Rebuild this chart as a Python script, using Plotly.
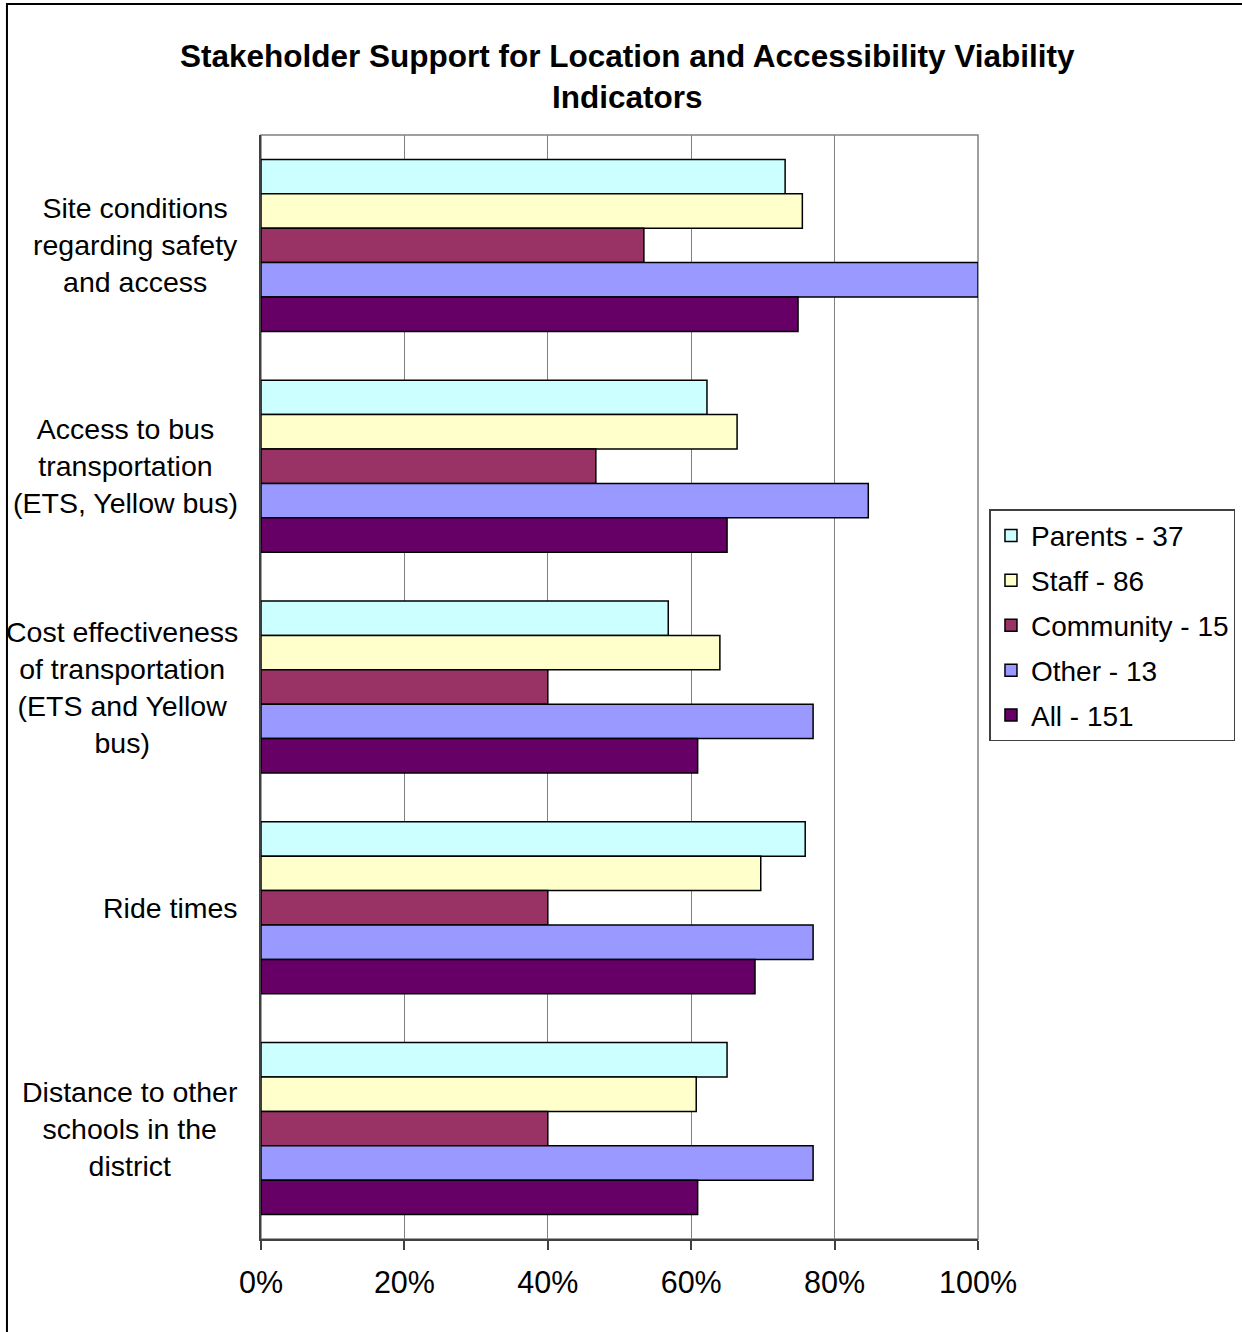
import plotly.graph_objects as go

categories = [
    "Site conditions<br>regarding safety<br>and access",
    "Access to bus<br>transportation<br>(ETS, Yellow bus)",
    "Cost effectiveness<br>of transportation<br>(ETS and Yellow<br>bus)",
    "Ride times",
    "Distance to other<br>schools in the<br>district",
]
series_names = ["Parents - 37", "Staff - 86", "Community - 15", "Other - 13", "All - 151"]
parents = [0.731, 0.622, 0.568, 0.759, 0.650]
staff = [0.755, 0.664, 0.640, 0.697, 0.607]
community = [0.534, 0.467, 0.400, 0.400, 0.400]
other = [1.000, 0.847, 0.770, 0.770, 0.770]
all_resp = [0.749, 0.650, 0.609, 0.689, 0.609]
colors = ["#CCFFFF", "#FFFFCC", "#993366", "#9999FF", "#660066"]
x_ticks = [0, 0.2, 0.4, 0.6, 0.8, 1.0]

FONT = "Liberation Sans, Arial, sans-serif"

fig = go.Figure()
for name, vals, col in zip(series_names, [parents, staff, community, other, all_resp], colors):
    fig.add_trace(go.Bar(
        y=categories, x=vals, name=name, orientation="h", legendgroup=name,
        marker=dict(color=col, line=dict(color="black", width=1.5)),
    ))

# category labels, centred lines like the original
for cat in categories:
    fig.add_annotation(
        x=-0.029, xref="paper", y=cat, yref="y", text=cat, showarrow=False,
        xanchor="right", align="center", font=dict(size=28.5, color="black", family=FONT),
    )

# plot area frame (grey) and outer chart border
fig.add_shape(type="rect", xref="paper", yref="paper", x0=0, x1=1, y0=0, y1=1,
              line=dict(color="#808080", width=1.5), layer="below")
fig.add_shape(type="rect", xref="paper", yref="paper", x0=-0.3543, x1=1.379, y0=-0.0915, y1=1.1187,
              line=dict(color="black", width=2))

fig.update_layout(
    width=1242, height=1332,
    margin=dict(l=261, r=264, t=135, b=93, autoexpand=False),
    paper_bgcolor="white", plot_bgcolor="white",
    barmode="group", bargap=0.221, bargroupgap=0,
    font=dict(family=FONT, color="black"),
    title=dict(
        text="<b>Stakeholder Support for Location and Accessibility Viability<br>Indicators</b>",
        x=0.505, xanchor="center", y=0.9495, yanchor="middle",
        font=dict(size=31.5, family=FONT, color="black"),
    ),
    legend=dict(
        x=1.016, xanchor="left", y=0.661, yanchor="top",
        bordercolor="#404040", borderwidth=1.5, bgcolor="white",
        font=dict(size=28, family=FONT), tracegroupgap=5.5,
    ),
    showlegend=True,
)
fig.update_xaxes(
    range=[0, 1], tickvals=x_ticks, tickformat=".0%",
    showgrid=True, gridcolor="#808080", gridwidth=1,
    showline=True, linecolor="#404040", linewidth=2,
    ticks="outside", ticklen=9, tickcolor="#404040", tickwidth=1.5,
    ticklabelstandoff=6,
    tickfont=dict(size=30.5, family=FONT), zeroline=False,
)
fig.update_yaxes(
    autorange="reversed", showticklabels=False, showgrid=False,
    showline=True, linecolor="#404040", linewidth=2, ticks="",
)

fig.write_html(
    "out.html",
    config={"displayModeBar": False},
    post_script="document.body.style.margin='0';document.body.style.overflow='hidden';",
)
